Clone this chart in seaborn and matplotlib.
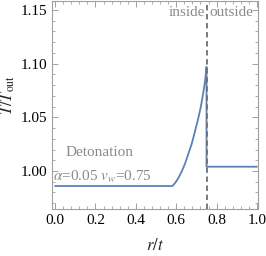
import pandas as pd
import matplotlib
matplotlib.use("Agg")
import matplotlib.pyplot as plt
from matplotlib.ticker import MultipleLocator
import seaborn as sns

# temperature profile
r_vals = [0.0, 0.581, 0.595, 0.610, 0.627, 0.644, 0.660, 0.677, 0.693, 0.709, 0.722, 0.734, 0.743, 0.75, 0.75, 1.0]
T_vals = [0.986, 0.986, 0.989, 0.9932, 0.9995, 1.007, 1.016, 1.0255, 1.037, 1.049, 1.060, 1.073, 1.084, 1.097, 1.004, 1.004]
v_wall = 0.75

sns.set_style("ticks")
plt.rcParams['font.family'] = ['Liberation Serif', 'DejaVu Serif']
plt.rcParams['mathtext.fontset'] = 'stix'

df = pd.DataFrame({'r/t': r_vals, 'T': T_vals})

fig = plt.figure(figsize=(2.66, 2.56), dpi=100)
ax = fig.add_axes([0.1955, 0.1836, 0.7745, 0.8125])

sns.lineplot(data=df, x='r/t', y='T', sort=False, estimator=None,
             color='#5E81B5', linewidth=1.3, ax=ax)
ax.axvline(v_wall, color='#707070', linestyle=(0, (3, 2)), linewidth=1.3)

ax.set_xlim(-0.015, 1.005)
ax.set_ylim(0.9646, 1.1584)
ax.xaxis.set_minor_locator(MultipleLocator(0.04))
ax.yaxis.set_minor_locator(MultipleLocator(0.01))
ax.set_xticks([0.0, 0.2, 0.4, 0.6, 0.8, 1.0])
ax.set_xticklabels(['0.0', '0.2', '0.4', '0.6', '0.8', '1.0'])
ax.set_yticks([1.00, 1.05, 1.10, 1.15])
ax.set_yticklabels(['1.00', '1.05', '1.10', '1.15'])

for s in ax.spines.values():
    s.set_color('#a0a0a0')
    s.set_linewidth(0.8)
ax.tick_params(which='both', direction='in', top=True, right=True,
               color='#a0a0a0', labelsize=11, labelcolor='black')
ax.tick_params(which='major', length=4, width=0.7)
ax.tick_params(which='minor', length=2, width=0.6)

ax.set_xlabel('$r/t$', fontsize=12, labelpad=8)
ax.set_ylabel('$T/T_{\\rm out}$', fontsize=12, labelpad=4)
ax.yaxis.set_label_coords(-0.17, 0.55)

gray = '#8a8a8a'
ax.text(0.218, 1.017, 'Detonation', color=gray, fontsize=11, ha='center', va='center')
ax.text(-0.012, 0.9944, '$\\alpha$=0.05 $v_w$=0.75', color=gray, fontsize=11, ha='left', va='center')
ax.text(v_wall - 0.005, 1.148, 'inside', color=gray, fontsize=11, ha='right', va='center')
ax.text(v_wall + 0.012, 1.148, 'outside', color=gray, fontsize=11, ha='left', va='center')

fig.savefig('out.png', dpi=100)
